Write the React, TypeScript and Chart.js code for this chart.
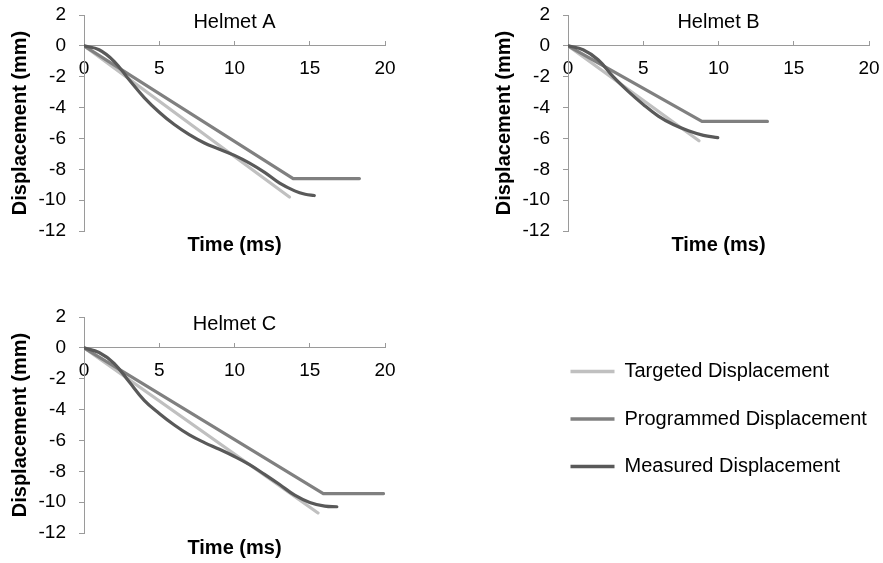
import React, { useEffect, useRef } from 'react';
import { Chart, registerables } from 'chart.js';

Chart.register(...registerables);

const FONT = "'Liberation Sans', Arial, Helvetica, sans-serif";

// ---- shared axis / legend values ----
const xAxisMin = 0;
const xAxisMax = 20;
const xAxisStep = 5;
const yAxisMin = -12;
const yAxisMax = 2;
const yAxisStep = 2;
const xAxisTitle = 'Time (ms)';
const yAxisTitle = 'Displacement (mm)';
const seriesLabels = ['Targeted Displacement', 'Programmed Displacement', 'Measured Displacement'];
const seriesColors = ['#c0c0c0', '#808080', '#595959'];
const panelTitles = ['Helmet A', 'Helmet B', 'Helmet C'];

// ---- Helmet A ----
const targetedTimeA = [0, 13.65];
const targetedDispA = [0, -9.8];
const programmedTimeA = [0, 13.9, 18.3];
const programmedDispA = [0, -8.6, -8.6];
const measuredTimeA = [0, 1, 2, 3, 4, 5, 6, 7, 8, 9, 10, 11, 12, 13, 14, 14.7, 15.3];
const measuredDispA = [0, -0.25, -1.0, -2.2, -3.35, -4.3, -5.1, -5.75, -6.3, -6.7, -7.1, -7.6, -8.2, -8.9, -9.4, -9.62, -9.7];

// ---- Helmet B ----
const targetedTimeB = [0, 8.7];
const targetedDispB = [0, -6.15];
const programmedTimeB = [0, 8.9, 13.25];
const programmedDispB = [0, -4.9, -4.9];
const measuredTimeB = [0, 1, 2, 3, 4, 5, 6, 7, 8, 9, 9.95];
const measuredDispB = [0, -0.25, -0.9, -2.0, -2.95, -3.8, -4.55, -5.1, -5.5, -5.8, -5.95];

// ---- Helmet C ----
const targetedTimeC = [0, 15.55];
const targetedDispC = [0, -10.7];
const programmedTimeC = [0, 15.9, 19.9];
const programmedDispC = [0, -9.45, -9.45];
const measuredTimeC = [0, 1, 2, 3, 4, 5, 6, 7, 8, 9, 10, 11, 12, 13, 14, 15, 16, 16.8];
const measuredDispC = [0, -0.3, -1.0, -2.2, -3.4, -4.25, -5.0, -5.64, -6.14, -6.57, -7.04, -7.57, -8.2, -8.86, -9.55, -10.02, -10.26, -10.3];

const zip = (xs: number[], ys: number[]) => xs.map((x, i) => ({ x, y: ys[i] }));

const AXIS_COLOR = '#9a9a9a';

const panelTitlePlugin = {
  id: 'panelTitle',
  afterDraw(chart: any, _args: any, opts: any) {
    const { ctx, chartArea } = chart;
    ctx.save();
    ctx.font = `20px ${FONT}`;
    ctx.fillStyle = '#000';
    ctx.textAlign = 'center';
    ctx.textBaseline = 'middle';
    ctx.fillText(opts.text, (chartArea.left + chartArea.right) / 2, chartArea.top + opts.offset);
    ctx.restore();
  },
};

const zeroPad = (s: any) => {
  s.paddingLeft = 0;
  s.paddingRight = 0;
  s.paddingTop = 0;
  s.paddingBottom = 0;
};

type PanelProps = {
  title: string;
  tT: number[]; tD: number[];
  pT: number[]; pD: number[];
  mT: number[]; mD: number[];
  left: number; top: number; width: number; height: number;
  plotLeft: number; plotRight: number; plotTop: number; plotBottom: number;
  xTitleCenter: number;
};

function Panel(p: PanelProps) {
  const ref = useRef<HTMLCanvasElement>(null);
  useEffect(() => {
    if (!ref.current) return;
    const common = { pointRadius: 0, borderWidth: 3.2, borderCapStyle: 'round', borderJoinStyle: 'round', fill: false, xAxisID: 'x', yAxisID: 'y' };
    const chart = new Chart(ref.current, {
      type: 'line',
      data: {
        datasets: [
          { ...common, label: seriesLabels[0], data: zip(p.tT, p.tD), borderColor: seriesColors[0], backgroundColor: seriesColors[0], tension: 0, order: 3 },
          { ...common, label: seriesLabels[1], data: zip(p.pT, p.pD), borderColor: seriesColors[1], backgroundColor: seriesColors[1], tension: 0, order: 2 },
          { ...common, label: seriesLabels[2], data: zip(p.mT, p.mD), borderColor: seriesColors[2], backgroundColor: seriesColors[2], tension: 0.4, order: 1 },
        ] as any,
      },
      options: {
        animation: false,
        responsive: false,
        maintainAspectRatio: false,
        events: [],
        layout: { padding: { top: p.plotTop, left: 0, right: p.width - p.plotRight, bottom: 0 } },
        scales: {
          x: {
            type: 'linear',
            position: { y: 0 } as any,
            min: xAxisMin,
            max: xAxisMax,
            ticks: { stepSize: xAxisStep, padding: 16.5, color: '#000', font: { size: 19, family: FONT }, maxRotation: 0 },
            grid: { drawOnChartArea: false, drawTicks: true, tickLength: -5, color: AXIS_COLOR, lineWidth: 1 },
            border: { display: true, color: AXIS_COLOR, width: 1 },
            afterFit: zeroPad,
          },
          xt: {
            type: 'linear',
            axis: 'x',
            position: 'bottom',
            min: 0,
            max: 1,
            ticks: { display: false },
            grid: { display: false, drawTicks: false },
            border: { display: false },
            title: {
              display: true,
              text: xAxisTitle,
              color: '#000',
              font: { size: 20, weight: 'bold', family: FONT },
              padding: { top: 0, bottom: p.height - 12 - p.xTitleCenter },
            },
            afterFit: (s: any) => { s.height = p.height - p.plotBottom; zeroPad(s); },
          },
          y: {
            type: 'linear',
            position: 'left',
            min: yAxisMin,
            max: yAxisMax,
            ticks: { stepSize: yAxisStep, padding: 13, color: '#000', font: { size: 19, family: FONT } },
            grid: { drawOnChartArea: false, drawTicks: true, tickLength: 5, color: AXIS_COLOR, lineWidth: 1 },
            border: { display: true, color: AXIS_COLOR, width: 1 },
            title: {
              display: true,
              text: yAxisTitle,
              color: '#000',
              font: { size: 20, weight: 'bold', family: FONT },
              padding: { top: 8, bottom: 0 },
            },
            afterFit: (s: any) => { s.width = p.plotLeft; zeroPad(s); },
          },
        } as any,
        plugins: {
          legend: { display: false },
          tooltip: { enabled: false },
          panelTitle: { text: p.title, offset: 7 },
        } as any,
      },
      plugins: [panelTitlePlugin as any],
    });
    return () => chart.destroy();
  }, []);
  return (
    <canvas
      ref={ref}
      width={p.width}
      height={p.height}
      style={{ position: 'absolute', left: p.left, top: p.top, width: p.width, height: p.height }}
    />
  );
}

function Legend({ left, top, width, height }: { left: number; top: number; width: number; height: number }) {
  const ref = useRef<HTMLCanvasElement>(null);
  useEffect(() => {
    if (!ref.current) return;
    const chart = new Chart(ref.current, {
      type: 'line',
      data: {
        datasets: seriesLabels.map((label, i) => ({
          label,
          data: [],
          borderColor: seriesColors[i],
          backgroundColor: seriesColors[i],
          borderWidth: 3,
          pointRadius: 0,
        })),
      },
      options: {
        animation: false,
        responsive: false,
        maintainAspectRatio: false,
        events: [],
        layout: { padding: 0 },
        scales: { x: { display: false }, y: { display: false } },
        plugins: {
          tooltip: { enabled: false },
          legend: {
            position: 'left',
            align: 'start',
            maxWidth: 400,
            labels: {
              usePointStyle: true,
              pointStyle: 'line',
              pointStyleWidth: 44,
              padding: 27.5,
              color: '#000',
              font: { size: 20, family: FONT },
              generateLabels: (c: any) =>
                c.data.datasets.map((ds: any, i: number) => ({
                  text: ds.label,
                  fillStyle: ds.borderColor,
                  strokeStyle: ds.borderColor,
                  lineWidth: 3.5,
                  lineCap: 'butt',
                  pointStyle: 'line',
                  hidden: false,
                  datasetIndex: i,
                  fontColor: '#000',
                })),
            },
          },
        } as any,
      },
    });
    return () => chart.destroy();
  }, []);
  return (
    <canvas
      ref={ref}
      width={width}
      height={height}
      style={{ position: 'absolute', left, top, width, height }}
    />
  );
}

export default function App() {
  return (
    <div style={{ position: 'absolute', left: 0, top: 0, width: 883, height: 563, background: '#fff', overflow: 'hidden' }}>
      <Panel
        title={panelTitles[0]}
        tT={targetedTimeA} tD={targetedDispA}
        pT={programmedTimeA} pD={programmedDispA}
        mT={measuredTimeA} mD={measuredDispA}
        left={0} top={0} width={440} height={270}
        plotLeft={84} plotRight={385} plotTop={15} plotBottom={231}
        xTitleCenter={245}
      />
      <Panel
        title={panelTitles[1]}
        tT={targetedTimeB} tD={targetedDispB}
        pT={programmedTimeB} pD={programmedDispB}
        mT={measuredTimeB} mD={measuredDispB}
        left={484} top={0} width={399} height={270}
        plotLeft={84} plotRight={385} plotTop={15} plotBottom={231}
        xTitleCenter={245}
      />
      <Panel
        title={panelTitles[2]}
        tT={targetedTimeC} tD={targetedDispC}
        pT={programmedTimeC} pD={programmedDispC}
        mT={measuredTimeC} mD={measuredDispC}
        left={0} top={300} width={440} height={263}
        plotLeft={84} plotRight={385} plotTop={17} plotBottom={233}
        xTitleCenter={248}
      />
      <Legend left={543} top={333.5} width={340} height={200} />
    </div>
  );
}
